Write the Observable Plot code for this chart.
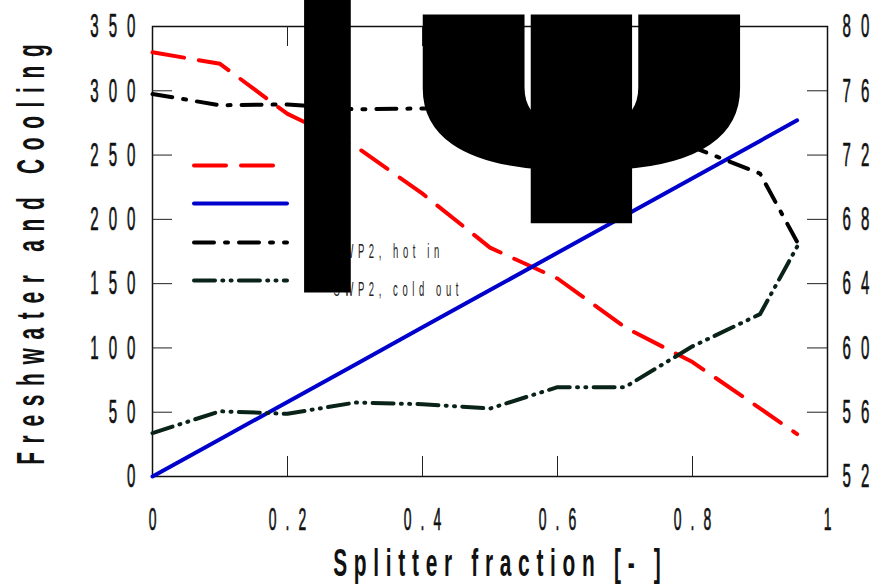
<!DOCTYPE html>
<html><head><meta charset="utf-8">
<script src="https://cdn.jsdelivr.net/npm/d3@7"></script>
<script src="https://cdn.jsdelivr.net/npm/@observablehq/plot@0.6"></script>
<style>body{margin:0;background:#fff;} #chart svg{display:block;}</style>
</head><body><div id="chart"></div>
<script>
// ---- data ----
const splitter   = [0, 0.1, 0.2, 0.3, 0.4, 0.5, 0.6, 0.7, 0.8, 0.9, 0.955];
const freshwater = [330, 321, 282, 257, 220, 178, 154, 116, 89, 53, 33];
const cooling    = [0, 29, 58, 87, 116, 145, 174, 203, 232, 261, 277];
const hotIn      = [75.8, 75.1, 75.15, 74.85, 74.9, 74.9, 74.5, 73.6, 72.5, 70.85, 66.6];
const coldOut    = [54.7, 56.06, 55.9, 56.6, 56.5, 56.23, 57.56, 57.56, 60.1, 62.1, 66.3];
const leftTicks  = [0, 50, 100, 150, 200, 250, 300, 350];
const rightTicks = [52, 56, 60, 64, 68, 72, 76, 80];
const xTicks     = [0, 0.2, 0.4, 0.6, 0.8, 1];
const seriesNames = ["Ι", "ψ", "SWP2, hot in", "SWP2, cold out"];
const seriesColors = ["#ff0000", "#0000cc", "#000000", "#0a2318"];
const seriesDash = ["32,15", null, "20,11,3,11", "21,7.3,1,7.3,1,7.3"];

// ---- layout ----
const W = 876, H = 587, mL = 152, mR = 49, mT = 26, mB = 111;
const plotW = W - mL - mR, plotH = H - mT - mB;
const yMax = 350, rMin = 52, rMax = 80;
const toLeft = v => (v - rMin) * yMax / (rMax - rMin);
const pxY = p => (H - mB - p) * yMax / plotH;      // pixel row -> left-axis value
const pxX = p => (p - mL) / plotW;                 // pixel col -> x value
const tickLenX = 20 / plotW, tickLenY = 20 * yMax / plotH;

const rows = (ys, f) => splitter.map((x, i) => ({x, y: f(ys[i])}));
const series = [
  rows(freshwater, v => v),
  rows(cooling, v => v),
  rows(hotIn, toLeft),
  rows(coldOut, toLeft)
];
const legendRows = [165, 203, 242, 280].map((p, i) => ({i, y: pxY(p)}));

const lineStyle = i => ({
  stroke: seriesColors[i], strokeWidth: 4, strokeLinecap: "round", strokeLinejoin: "round",
  ...(seriesDash[i] ? {strokeDasharray: seriesDash[i]} : {})
});
const tickText = {fill: "#111", stroke: "#111", strokeWidth: 0.7, fontWeight: "normal"};

const chart = Plot.plot({
  width: W, height: H,
  marginLeft: mL, marginRight: mR, marginTop: mT, marginBottom: mB,
  x: {domain: [0, 1], axis: null},
  y: {domain: [0, yMax], axis: null},
  style: {background: "#fff", fontFamily: "Liberation Sans, Arial, sans-serif", overflow: "visible"},
  marks: [
    Plot.frame({stroke: "#111", strokeWidth: 1.5}),
    Plot.ruleY(leftTicks.slice(1, -1), {x1: 0, x2: tickLenX, stroke: "#222", strokeWidth: 1}),
    Plot.ruleY(rightTicks.slice(1, -1).map(toLeft), {x1: 1 - tickLenX, x2: 1, stroke: "#222", strokeWidth: 1}),
    Plot.ruleX(xTicks.slice(1, -1), {y1: 0, y2: tickLenY, stroke: "#222", strokeWidth: 1}),
    Plot.ruleX(xTicks.slice(1, -1), {y1: yMax - tickLenY, y2: yMax, stroke: "#222", strokeWidth: 1}),
    ...series.map((d, i) => Plot.line(d, {x: "x", y: "y", ...lineStyle(i)})),
    ...legendRows.map(r => Plot.ruleY([r.y], {x1: pxX(194), x2: pxX(287), ...lineStyle(r.i)})),
    Plot.text(legendRows.slice(2), {x: pxX(333), y: r => r.y - pxY(0) + pxY(9), text: r => seriesNames[r.i],
      textAnchor: "start", lineAnchor: "middle", fontSize: 21, fill: "#222", ariaDescription: "legend-labels"}),
    // axis tick labels
    Plot.text(leftTicks, {frameAnchor: "left", y: d => d, text: d => String(d), dx: -17,
      textAnchor: "end", lineAnchor: "middle", fontSize: 33.5, ...tickText, ariaDescription: "ticks-left"}),
    Plot.text(rightTicks, {frameAnchor: "right", y: d => toLeft(d), text: d => String(d), dx: 15,
      textAnchor: "start", lineAnchor: "middle", fontSize: 33.5, ...tickText, ariaDescription: "ticks-right"}),
    Plot.text(xTicks, {frameAnchor: "bottom", x: d => d, text: d => String(d), dx: 0, dy: 44,
      textAnchor: "middle", lineAnchor: "middle", fontSize: 31, ...tickText, ariaDescription: "ticks-bottom"}),
    // axis titles
    Plot.text(["Freshwater and Cooling"], {frameAnchor: "left", rotate: -90, dx: -121, dy: 3,
      textAnchor: "middle", lineAnchor: "middle", fontSize: 38, fontWeight: "bold", fill: "#111", ariaDescription: "title-left"}),
    Plot.text(["Splitter fraction [- ]"], {frameAnchor: "bottom", dx: 7, dy: 87,
      textAnchor: "middle", lineAnchor: "middle", fontSize: 38, fontWeight: "bold", fill: "#111", ariaDescription: "title-bottom"}),
    // first two legend labels, rendered as giant glyphs like in the reference
    Plot.text([legendRows[0]], {x: pxX(327), y: pxY(292), text: r => seriesNames[r.i], textAnchor: "middle",
      lineAnchor: "bottom", fontSize: 414, fontWeight: "bold", fontFamily: "DejaVu Sans", fill: "#000", ariaDescription: "glyph-a"}),
    Plot.text([legendRows[1]], {x: pxX(582), y: pxY(162), text: r => seriesNames[r.i], textAnchor: "middle",
      lineAnchor: "bottom", fontSize: 445, fontWeight: "bold", fontFamily: "DejaVu Sans", fill: "#000",
      stroke: "#000", strokeWidth: 24, strokeLinejoin: "miter", ariaDescription: "glyph-b"})
  ]
});

// condense glyphs horizontally and spread letters (no trailing spacing after the last one)
function squeeze(svg, label, sx, sy, lsPost) {
  svg.querySelectorAll(`[aria-description="${label}"] text`).forEach(t => {
    t.setAttribute("transform", (t.getAttribute("transform") || "") + ` scale(${sx},${sy})`);
    if (lsPost) {
      const s = t.textContent;
      t.textContent = "";
      const ts = document.createElementNS("http://www.w3.org/2000/svg", "tspan");
      ts.setAttribute("letter-spacing", lsPost / sx);
      ts.textContent = s.slice(0, -1);
      t.appendChild(ts);
      t.appendChild(document.createTextNode(s.slice(-1)));
    }
  });
}
squeeze(chart, "ticks-left", 0.45, 1, 10);
squeeze(chart, "ticks-right", 0.45, 1, 10);
squeeze(chart, "ticks-bottom", 0.45, 1, 9);
squeeze(chart, "legend-labels", 0.45, 1, 4.6);
squeeze(chart, "title-left", 0.55, 1, 8.7);
squeeze(chart, "title-bottom", 0.55, 1, 6.7);
squeeze(chart, "glyph-a", 0.6, 1, 0);
squeeze(chart, "glyph-b", 1, 0.58, 0);

document.getElementById("chart").appendChild(chart);
</script>
</body></html>
